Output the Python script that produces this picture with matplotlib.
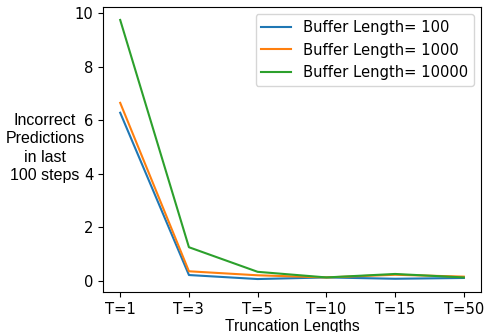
import matplotlib
matplotlib.use('Agg')
import matplotlib.pyplot as plt
import numpy as np

trunc_labels = ['T=1', 'T=3', 'T=5', 'T=10', 'T=15', 'T=50']
buf_100 = [6.28, 0.21, 0.06, 0.12, 0.07, 0.1]
buf_1000 = [6.65, 0.35, 0.2, 0.12, 0.22, 0.15]
buf_10000 = [9.75, 1.25, 0.33, 0.12, 0.25, 0.12]

fig = plt.figure(figsize=(4.85, 3.32), dpi=100)
ax = fig.add_axes([0.2124, 0.1205, 0.7794, 0.8584])

x = np.arange(len(trunc_labels))
ax.plot(x, buf_100, label='Buffer Length= 100')
ax.plot(x, buf_1000, label='Buffer Length= 1000')
ax.plot(x, buf_10000, label='Buffer Length= 10000')

ax.set_xticks(x)
ax.set_xticklabels(trunc_labels)
ax.tick_params(labelsize=10.6)
ax.set_yticks([0, 2, 4, 6, 8, 10])
ax.set_xlabel('Truncation Lengths', fontsize=11.3, labelpad=2, family='Liberation Sans')
ax.set_ylabel('Incorrect\nPredictions\nin last\n100 steps', rotation=0, fontsize=11.5,
              ha='center', va='center', family='Liberation Sans', linespacing=1.3)
ax.yaxis.set_label_coords(-0.153, 0.505)
ax.legend(loc='upper right', fontsize=10.6)

fig.savefig('out.png')
